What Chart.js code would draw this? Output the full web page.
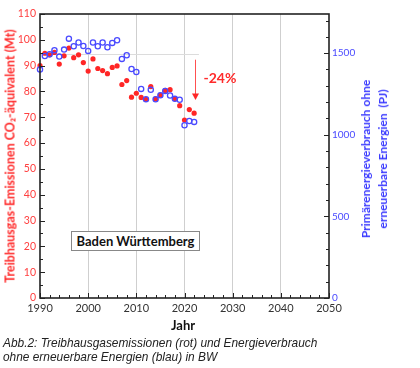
<!DOCTYPE html>
<html>
<head>
<meta charset="utf-8">
<script src="https://cdn.jsdelivr.net/npm/chart.js@4.4.1/dist/chart.umd.min.js"></script>
<style>
  body { margin: 0; background: #fff; }
  #wrap { position: relative; width: 420px; height: 368px; overflow: hidden; font-family: Lato, sans-serif; }
  #c { position: absolute; left: 0; top: 0; }
  .lbl { position: absolute; transform: translate(-50%, -50%); white-space: nowrap; font-weight: bold; }
  .rot { transform: translate(-50%, -50%) rotate(-90deg); }
  #ytitle { left: 10px; top: 156px; color: #ff2a2a; font-size: 12.5px; }
  #y2title { left: 374px; top: 159px; color: #3c3cff; font-size: 12px; line-height: 17px; text-align: center; }
  #xtitle { left: 183px; top: 325px; color: #111; font-size: 13px; }
  #pct { left: 220px; top: 77px; color: #ff2a2a; font-size: 14px; }
  #region { position: absolute; left: 71px; top: 231px; width: 127px; height: 18px; line-height: 18px;
    border: 1px solid #888; background: #fff; text-align: center; font-weight: bold; font-size: 13px; color: #111; }
  #caption { position: absolute; left: 3px; top: 336px; font-family: "Liberation Sans", Arial, sans-serif;
    font-style: italic; font-size: 11.9px; line-height: 14px; color: #222; }
</style>
</head>
<body>
<div id="wrap">
  <canvas id="c" width="420" height="368"></canvas>
  <div id="ytitle" class="lbl rot">Treibhausgas-Emissionen CO₂-äquivalent (Mt)</div>
  <div id="y2title" class="lbl rot">Primärenergieverbrauch ohne<br>erneuerbare Energien&nbsp; (PJ)</div>
  <div id="xtitle" class="lbl">Jahr</div>
  <div id="pct" class="lbl">-24%</div>
  <div id="region">Baden Württemberg</div>
  <div id="caption">Abb.2: Treibhausgasemissionen (rot) und Energieverbrauch<br>ohne erneuerbare Energien (blau) in BW</div>
</div>
<script>
const years = [1990, 1991, 1992, 1993, 1994, 1995, 1996, 1997, 1998, 1999,
  2000, 2001, 2002, 2003, 2004, 2005, 2006, 2007, 2008, 2009,
  2010, 2011, 2012, 2013, 2014, 2015, 2016, 2017, 2018, 2019,
  2020, 2021, 2022];

// Treibhausgas-Emissionen (Mt CO2-äq.)
const emissions = [90.0, 94.8, 94.2, 95.1, 90.6, 93.8, 96.8, 93.1, 94.2, 91.2,
  87.9, 92.6, 88.9, 88.1, 86.9, 89.3, 89.9, 82.7, 84.2, 77.8,
  79.3, 77.7, 76.9, 81.9, 77.1, 78.6, 80.4, 80.7, 77.2, 74.5,
  68.9, 73.0, 71.6];

// Primärenergieverbrauch ohne erneuerbare (PJ)
const energy = [1400, 1483, 1493, 1518, 1479, 1522, 1589, 1542, 1565, 1544,
  1514, 1565, 1542, 1565, 1536, 1563, 1579, 1465, 1487, 1403,
  1385, 1281, 1218, 1276, 1218, 1242, 1269, 1241, 1220, 1215,
  1058, 1084, 1079];

const xTicks = [1990, 2000, 2010, 2020, 2030, 2040, 2050];
const yTicks = [0, 10, 20, 30, 40, 50, 60, 70, 80, 90, 100, 110];
const y2Ticks = [0, 500, 1000, 1500];

const baseLevel = 94.6;   // grey reference line
const arrowFrom = 92.3;
const arrowTo = 76.7;
const arrowYear = 2022.2;

const RED = '#ff2626';
const BLUE = '#4a4aff';

const decor = {
  id: 'decor',
  beforeDatasetsDraw(chart) {
    const { ctx, scales: { x, y } } = chart;
    ctx.save();
    ctx.strokeStyle = '#dcdcdc';
    ctx.lineWidth = 1;
    const py = Math.round(y.getPixelForValue(baseLevel)) + 0.5;
    ctx.beginPath();
    ctx.moveTo(x.getPixelForValue(1990), py);
    ctx.lineTo(x.getPixelForValue(2023), py);
    ctx.stroke();
    ctx.restore();
  },
  afterDatasetsDraw(chart) {
    const { ctx, scales: { x, y } } = chart;
    const px = Math.round(x.getPixelForValue(arrowYear)) + 0.5;
    const top = y.getPixelForValue(arrowFrom);
    const tip = y.getPixelForValue(arrowTo);
    ctx.save();
    ctx.strokeStyle = '#ff5050';
    ctx.fillStyle = RED;
    ctx.lineWidth = 1;
    ctx.beginPath();
    ctx.moveTo(px, top);
    ctx.lineTo(px, tip - 6);
    ctx.stroke();
    ctx.beginPath();
    ctx.moveTo(px - 3.5, tip - 6.5);
    ctx.lineTo(px + 3.5, tip - 6.5);
    ctx.lineTo(px, tip);
    ctx.closePath();
    ctx.fill();
    ctx.restore();
  },
  afterDraw(chart) {
    const { ctx, chartArea: a, scales: { x, y, y2 } } = chart;
    ctx.save();
    ctx.strokeStyle = '#222';
    ctx.lineWidth = 1;
    ctx.beginPath();
    for (let yr = 1990; yr <= 2050; yr += 2) {
      const px = Math.round(x.getPixelForValue(yr)) + 0.5;
      ctx.moveTo(px, a.bottom);
      ctx.lineTo(px, a.bottom - (yr % 10 === 0 ? 5 : 3));
    }
    for (let v = 0; v <= 110; v += 5) {
      const py = Math.round(y.getPixelForValue(v)) + 0.5;
      ctx.moveTo(a.left, py);
      ctx.lineTo(a.left + (v % 10 === 0 ? 5 : 3), py);
    }
    for (let v = 0; v <= 1700; v += 100) {
      const py = Math.round(y2.getPixelForValue(v)) + 0.5;
      ctx.moveTo(a.right, py);
      ctx.lineTo(a.right - (v % 500 === 0 ? 5 : 3), py);
    }
    ctx.stroke();
    ctx.lineWidth = 1.6;
    ctx.strokeRect(a.left, a.top, a.right - a.left, a.bottom - a.top);
    ctx.restore();
  }
};

const keepTicks = list => scale => {
  scale.ticks = scale.ticks.filter(t => list.includes(t.value));
};

new Chart(document.getElementById('c'), {
  type: 'scatter',
  data: {
    datasets: [
      {
        label: 'Energieverbrauch',
        data: years.map((yr, i) => ({ x: yr, y: energy[i] })),
        yAxisID: 'y2',
        pointRadius: 2.6,
        pointBorderWidth: 1.3,
        pointBorderColor: BLUE,
        pointBackgroundColor: 'rgba(255,255,255,0)',
        clip: false
      },
      {
        label: 'Emissionen',
        data: years.map((yr, i) => ({ x: yr, y: emissions[i] })),
        yAxisID: 'y',
        pointRadius: 2.6,
        pointBorderWidth: 0,
        pointBackgroundColor: RED,
        clip: false
      }
    ]
  },
  options: {
    responsive: false,
    animation: false,
    events: [],
    layout: { padding: { top: 14, left: 0, right: 0, bottom: 0 } },
    plugins: { legend: { display: false }, tooltip: { enabled: false } },
    scales: {
      x: {
        type: 'linear',
        min: 1990,
        max: 2050,
        afterBuildTicks: keepTicks(xTicks),
        afterFit: s => { s.height = 70; },
        ticks: { stepSize: 10, color: '#333', padding: 4, font: { family: 'Lato', size: 11 },
          callback: v => String(v) },
        grid: {
          drawTicks: false,
          color: c => (c.tick && c.tick.value > 1990 && c.tick.value < 2050) ? '#cfcfcf' : 'rgba(0,0,0,0)'
        },
        border: { display: false }
      },
      y: {
        position: 'left',
        min: 0,
        max: 110,
        afterBuildTicks: keepTicks(yTicks),
        afterFit: s => { s.width = 40; },
        ticks: { stepSize: 10, color: '#ff4040', padding: 4, font: { family: 'Lato', size: 10.5 } },
        grid: { display: false, drawTicks: false },
        border: { display: false }
      },
      y2: {
        position: 'right',
        min: 0,
        max: 1740,
        afterBuildTicks: keepTicks(y2Ticks),
        afterFit: s => { s.width = 91; },
        ticks: { stepSize: 100, color: BLUE, padding: 3, font: { family: 'Lato', size: 10 },
          callback: v => String(v) },
        grid: { display: false, drawTicks: false },
        border: { display: false }
      }
    }
  },
  plugins: [decor]
});
</script>
</body>
</html>
